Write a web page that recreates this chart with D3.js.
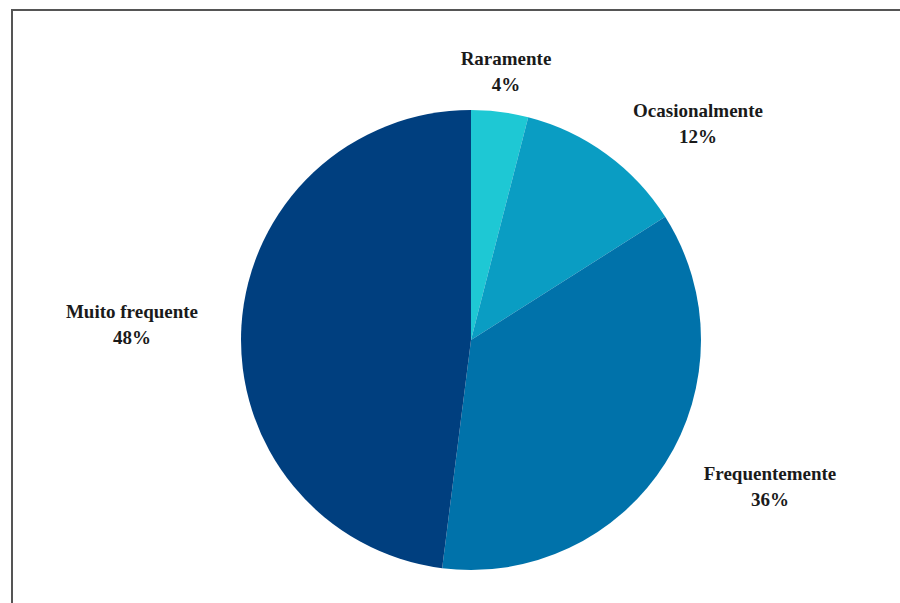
<!DOCTYPE html>
<html>
<head>
<meta charset="utf-8">
<script src="https://cdn.jsdelivr.net/npm/d3@7"></script>
<style>
  html, body { margin: 0; padding: 0; background: #fff; }
  svg { display: block; }
  text { font-family: "Liberation Serif", "Times New Roman", serif; font-weight: bold; fill: #1a1a1a; }
</style>
</head>
<body>
<svg id="chart" width="900" height="603"></svg>
<script>
const categories = ["Raramente", "Ocasionalmente", "Frequentemente", "Muito frequente"];
const values = [4, 12, 36, 48];
const valueLabels = ["4%", "12%", "36%", "48%"];
const colors = ["#1EC8D4", "#0A9DC3", "#0072AA", "#003F7F"];

// layout (label anchor positions, px)
const labelPos = [[506, 65], [698, 117], [770, 480], [132, 318]];

const svg = d3.select("#chart");
const W = 900, H = 603;

// frame
svg.append("path")
  .attr("d", `M12,${H + 5} L12,10 L${W + 5},10`)
  .attr("fill", "none")
  .attr("stroke", "#555")
  .attr("stroke-width", 2);

const cx = 471, cy = 340, R = 230;
const pie = d3.pie().sort(null).value(d => d);
const arc = d3.arc().innerRadius(0).outerRadius(R);
const arcs = pie(values);

const g = svg.append("g").attr("transform", `translate(${cx},${cy})`);
g.selectAll("path")
  .data(arcs)
  .join("path")
  .attr("d", arc)
  .attr("fill", (d, i) => colors[i]);

const lg = svg.append("g");
categories.forEach((c, i) => {
  const [x, y] = labelPos[i];
  lg.append("text")
    .attr("x", x).attr("y", y)
    .attr("text-anchor", "middle")
    .attr("font-size", 19)
    .text(c);
  lg.append("text")
    .attr("x", x).attr("y", y + 26)
    .attr("text-anchor", "middle")
    .attr("font-size", 19)
    .text(valueLabels[i]);
});
</script>
</body>
</html>
